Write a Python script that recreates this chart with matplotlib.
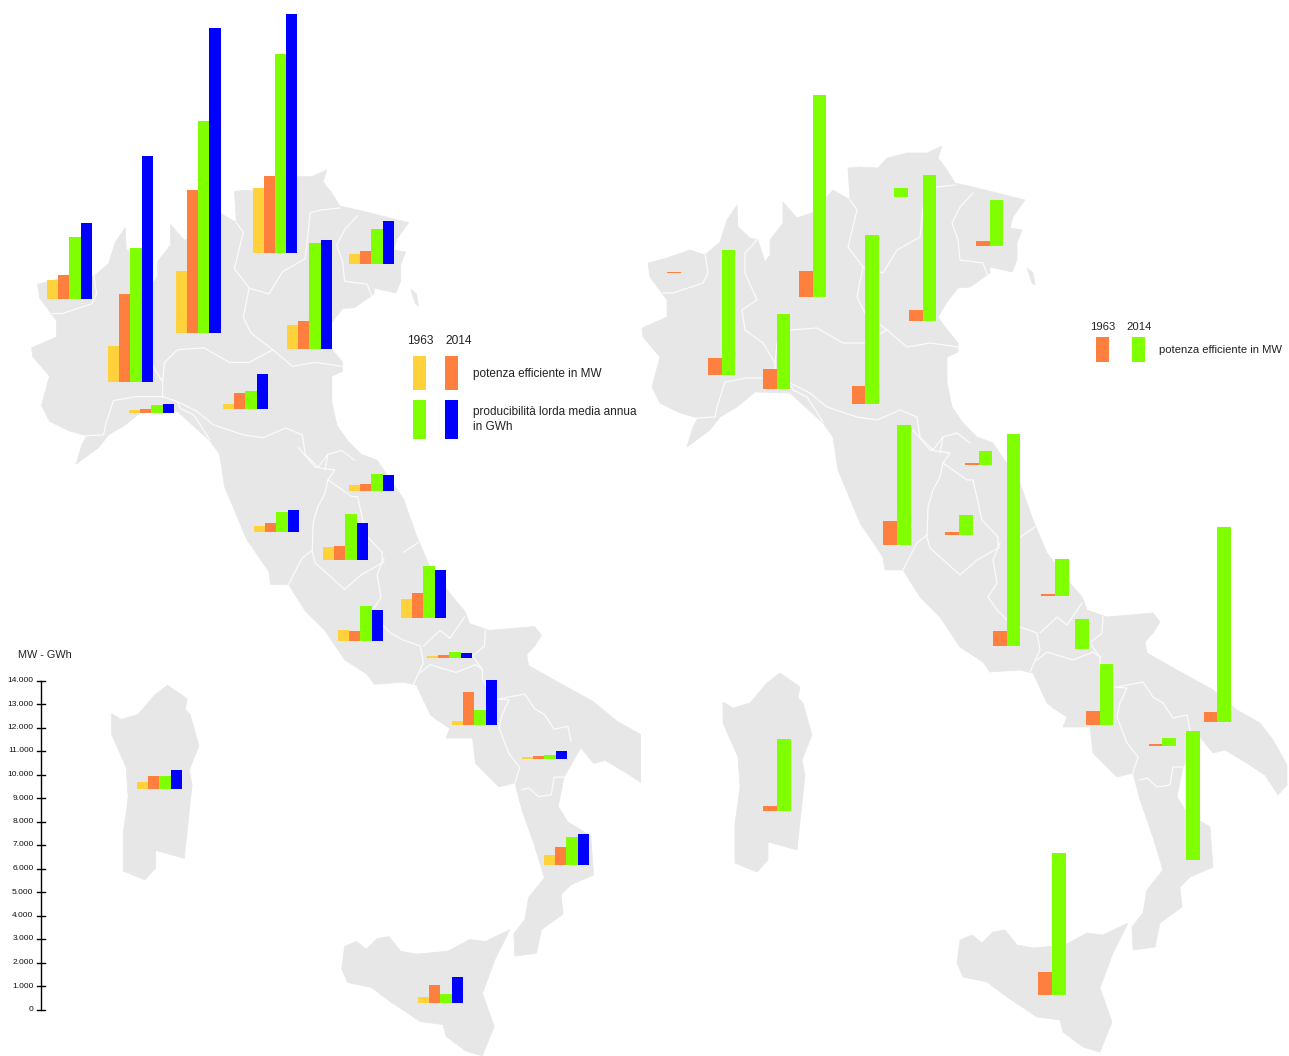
import numpy as np
import matplotlib
matplotlib.use("Agg")
import matplotlib.pyplot as plt
from matplotlib.patches import Polygon, Rectangle

plt.rcParams['font.family'] = ['Liberation Sans', 'DejaVu Sans']

# valori (MW e GWh)
regioni_sx = ['Piemonte', 'Lombardia', 'Lombardia2', 'Trentino', 'Veneto', 'Friuli', 'Liguria', 'Emilia',
              'Marche', 'Toscana', 'Umbria', 'Abruzzo', 'Lazio', 'Molise', 'Campania', 'Basilicata',
              'Calabria', 'Sicilia', 'Sardegna']
mw_1963 = [820, 1540, 2630, 2760, 1020, 420, 130, 225, 255, 255, 550, 805, 465, 85, 170, 85, 425, 255, 300]
mw_2014 = [1020, 3730, 6080, 3290, 1170, 540, 140, 680, 300, 380, 590, 1060, 425, 130, 1400, 130, 765, 765, 550]
gwh_1963 = [2670, 5680, 9020, 8490, 4510, 1510, 330, 780, 720, 850, 1950, 2200, 1485, 255, 635, 170, 1190, 380, 550]
gwh_2014 = [3250, 9620, 12970, 10180, 4610, 1810, 380, 1500, 680, 930, 1570, 2035, 1315, 210, 1910, 340, 1315, 1100, 805]

regioni_dx = ['Valle d\'Aosta', 'Piemonte', 'Liguria', 'Lombardia', 'Emilia', 'Trentino', 'Veneto', 'Friuli',
              'Toscana', 'Marche', 'Umbria', 'Lazio', 'Abruzzo', 'Molise', 'Campania', 'Puglia',
              'Basilicata', 'Calabria', 'Sicilia', 'Sardegna']
pot_1963 = [42, 735, 820, 1100, 740, 0, 480, 200, 1020, 75, 140, 635, 100, 0, 580, 435, 100, 0, 950, 200]
pot_2014 = [0, 5340, 3200, 8590, 7195, 395, 6230, 1950, 5100, 595, 860, 8990, 1555, 1270, 2575, 8310, 340, 5510, 6010, 3070]

asse_valori = list(range(0, 15000, 1000))

# posizione dei gruppi di barre sulla carta (pixel)
pos_sx_x = [47, 108, 175.7, 252.5, 287, 349, 129, 223, 349, 254, 323, 401, 338, 427, 452, 522, 544, 418, 137]
pos_sx_y = [299.3, 381.7, 332.7, 253.3, 348.7, 264, 412.7, 409.3, 491, 532, 560, 618, 641, 658, 725, 759, 865, 1003, 789]
pos_dx_x = [667.3, 708, 763, 799, 851.5, 880.5, 909, 976, 883.3, 965, 945.3, 993, 1041.3, 1061.5, 1086, 1203.5, 1148.7, 1172.7, 1038.3, 763.3]
pos_dx_y = [273, 375, 388.7, 296.7, 403.7, 197.3, 321.3, 245.7, 544.7, 464.7, 535.3, 645.7, 596, 649, 724.7, 722.3, 746.3, 860, 994.7, 810.7]

SCALA = 0.0235  # pixel per unita'
GIALLO, ARANCIO, VERDE, BLU = '#ffd23c', '#ff7f3f', '#7fff00', '#0000ff'
GRIGIO = '#e7e7e7'

# contorni della carta, coordinate della carta di destra
penisola = [(648, 263), (667, 258), (690, 250), (705, 255), (720, 242), (727, 220), (737, 205), (738, 227), (750, 238),
            (758, 240), (765, 262), (770, 255), (770, 240), (783, 223), (783, 202), (790, 210), (797, 218), (812, 213),
            (827, 197), (833, 190), (850, 200), (848, 168), (860, 167), (878, 168), (887, 158), (907, 153), (927, 153),
            (942, 146), (938, 158), (947, 170), (955, 183), (973, 187), (997, 193), (1025, 200), (1013, 217), (1010, 228),
            (1022, 230), (1017, 243), (1017, 260), (1012, 272), (990, 267), (990, 273), (970, 287), (958, 288), (947, 302),
            (938, 317), (945, 327), (958, 343), (958, 352), (947, 357), (947, 383), (952, 407), (963, 423), (977, 437),
            (993, 443), (1020, 483), (1033, 520), (1047, 553), (1070, 583), (1082, 597), (1087, 610), (1107, 617),
            (1153, 613), (1160, 622), (1153, 633), (1145, 642), (1147, 653), (1177, 670), (1213, 690), (1237, 710),
            (1260, 723), (1273, 740), (1287, 765), (1287, 785), (1278, 795), (1265, 775), (1245, 762), (1225, 750),
            (1213, 753), (1200, 737), (1183, 767), (1177, 797), (1187, 813), (1210, 827), (1213, 867), (1190, 877),
            (1180, 887), (1182, 907), (1160, 923), (1155, 947), (1133, 950), (1132, 927), (1143, 913), (1147, 890),
            (1163, 870), (1153, 837), (1140, 800), (1133, 773), (1117, 777), (1093, 753), (1090, 727), (1063, 727),
            (1067, 717), (1053, 708), (1047, 703), (1033, 673), (1020, 670), (990, 672), (983, 662), (960, 647),
            (940, 617), (920, 597), (903, 570), (885, 570), (883, 557), (860, 523), (838, 470), (833, 437), (823, 423),
            (790, 393), (755, 392), (737, 407), (720, 417), (710, 430), (687, 447), (693, 427), (698, 418), (680, 413),
            (660, 403), (652, 387), (660, 357), (643, 337), (642, 328), (667, 317), (667, 300), (650, 277)]
sardegna = [(780, 673), (800, 687), (798, 698), (803, 703), (812, 735), (802, 760), (805, 775), (797, 850), (768, 842),
            (768, 860), (757, 872), (747, 868), (735, 863), (735, 823), (738, 803), (740, 787), (738, 757), (723, 723),
            (723, 702), (733, 708), (750, 703), (767, 683)]
sicilia = [(1128, 923), (1113, 953), (1100, 988), (1112, 1022), (1100, 1052), (1083, 1047), (1063, 1032), (1060, 1020),
           (1037, 1017), (1007, 997), (987, 982), (963, 977), (957, 963), (960, 940), (972, 935), (982, 943), (993, 932),
           (1005, 930), (1017, 945), (1033, 948), (1065, 945), (1087, 933), (1103, 935)]
istria = [(1027, 268), (1033, 273), (1035, 285), (1032, 283)]

confini = [
    [(663, 293), (673, 293), (703, 283), (708, 273), (705, 253)],
    [(757, 240), (745, 253), (745, 273), (757, 300), (742, 310), (745, 330), (763, 343), (775, 363), (775, 378)],
    [(775, 378), (747, 378), (725, 382), (717, 407), (715, 417), (697, 418)],
    [(775, 363), (777, 343), (790, 330), (817, 328), (843, 343), (863, 343), (887, 330), (907, 347), (930, 343), (958, 347)],
    [(850, 200), (857, 210), (848, 247), (863, 267), (857, 297), (865, 313), (887, 330)],
    [(863, 267), (883, 273), (897, 250), (920, 237), (925, 190), (937, 187), (955, 185)],
    [(973, 193), (960, 207), (952, 223), (958, 240), (960, 260), (983, 263), (988, 277)],
    [(775, 378), (790, 383), (810, 393), (827, 407), (857, 417), (877, 420), (900, 410), (917, 417), (920, 437), (933, 450), (943, 437)],
    [(790, 383), (793, 390), (807, 397), (823, 422)],
    [(913, 430), (930, 450), (950, 453), (943, 463), (940, 477), (933, 490), (928, 507), (927, 537), (930, 548), (960, 575), (977, 560), (1000, 547)],
    [(940, 453), (943, 437), (957, 433), (970, 443)],
    [(943, 463), (967, 480), (973, 480), (982, 520), (998, 537), (998, 547)],
    [(927, 535), (917, 543), (908, 560), (903, 570)],
    [(1020, 537), (1035, 527)],
    [(1000, 543), (993, 560), (997, 583), (988, 597), (997, 610), (1007, 620), (1020, 627), (1037, 633), (1040, 650), (1030, 672)],
    [(1040, 633), (1057, 617), (1067, 625), (1082, 603)],
    [(1103, 617), (1102, 633), (1090, 643), (1100, 657), (1100, 667), (1113, 687), (1127, 688), (1120, 703), (1117, 717), (1127, 743), (1138, 757), (1133, 773)],
    [(1037, 660), (1047, 652), (1073, 660), (1093, 652), (1100, 657)],
    [(1117, 687), (1143, 682), (1153, 697), (1163, 703), (1173, 718), (1187, 715), (1190, 730)],
    [(1140, 780), (1147, 778), (1157, 787), (1170, 785), (1173, 767), (1183, 767)],
]


def disegna_carta(ax, fx, fy, clip=None):
    for contorno in [penisola, sardegna, sicilia, istria]:
        pts = np.array(contorno, dtype=float)
        p = Polygon(np.c_[fx(pts[:, 0]), fy(pts[:, 1])], closed=True, fc=GRIGIO, ec=GRIGIO, lw=0.5, zorder=1)
        ax.add_patch(p)
        if clip is not None:
            p.set_clip_path(clip)
    for linea in confini:
        pts = np.array(linea, dtype=float)
        l, = ax.plot(fx(pts[:, 0]), fy(pts[:, 1]), color='#fbfbfb', lw=0.9, zorder=2)
        if clip is not None:
            l.set_clip_path(clip)


def barre(ax, xs, ys, serie, colori, w):
    for i, (vals, c) in enumerate(zip(serie, colori)):
        vals = np.array(vals, dtype=float)
        ax.bar(np.array(xs) + i * w, -vals * SCALA, width=w, bottom=ys, align='edge', color=c, lw=0, zorder=3)


fig = plt.figure(figsize=(12.89, 10.56), dpi=100)
ax = fig.add_axes([0, 0, 1, 1])
ax.set_xlim(0, 1289)
ax.set_ylim(1056, 0)
ax.axis('off')

# la carta di sinistra e' quella di destra, un po' piu' piccola e tagliata
taglio = Rectangle((0, 0), 641, 1056, transform=ax.transData)
disegna_carta(ax, lambda x: 0.984 * x - 600, lambda y: 0.978 * y + 27, clip=taglio)
disegna_carta(ax, lambda x: x, lambda y: y)

barre(ax, pos_sx_x, pos_sx_y, [mw_1963, mw_2014, gwh_1963, gwh_2014], [GIALLO, ARANCIO, VERDE, BLU], 11.2)
barre(ax, pos_dx_x, pos_dx_y, [pot_1963, pot_2014], [ARANCIO, VERDE], 13.7)

# scala verticale
y0 = 1009.5
ax.plot([40.5, 40.5], [y0, y0 - 14000 * SCALA], color='black', lw=1, zorder=4)
for v in asse_valori:
    yy = y0 - v * SCALA
    ax.plot([36.5, 44.5], [yy, yy], color='black', lw=1, zorder=4)
    ax.text(33.5, yy, f"{v:,}".replace(',', '.'), ha='right', va='center', fontsize=6.0, color='#111111')
ax.text(18, 655, 'MW - GWh', ha='left', va='center', fontsize=7.8, color='#222222')

# legende
font = dict(color='#222222', va='center', ha='left')
ax.text(407, 340.5, '1963', fontsize=8.6, **font)
ax.text(445, 340.5, '2014', fontsize=8.6, **font)
ax.bar([413, 445], [34, 34], width=13, bottom=356, align='edge', color=[GIALLO, ARANCIO], lw=0)
ax.bar([413, 445], [39, 39], width=13, bottom=400, align='edge', color=[VERDE, BLU], lw=0)
ax.text(473, 373.5, 'potenza efficiente in MW', fontsize=8.5, **font)
ax.text(473, 411.5, 'producibilità lorda media annua', fontsize=8.5, **font)
ax.text(473, 427.5, 'in GWh', fontsize=8.5, **font)

ax.text(1090, 326.5, '1963', fontsize=8.1, **font)
ax.text(1126, 326.5, '2014', fontsize=8.1, **font)
ax.bar([1096, 1132], [25, 25], width=13, bottom=337, align='edge', color=[ARANCIO, VERDE], lw=0)
ax.text(1159, 350, 'potenza efficiente in MW', fontsize=8.1, **font)

fig.savefig('out.png', dpi=100)
